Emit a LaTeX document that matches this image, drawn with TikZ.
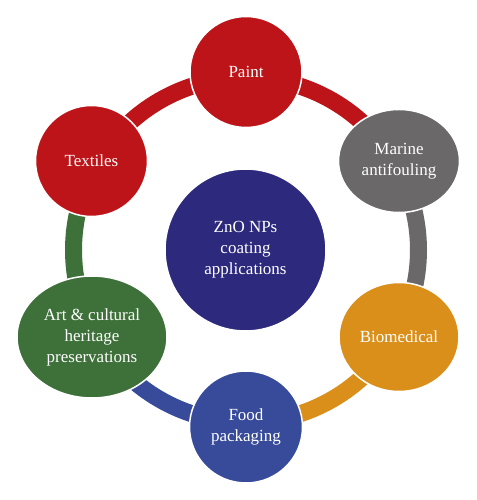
\documentclass[tikz,border=0pt]{standalone}
\usepackage{fontspec}
\setmainfont{Liberation Serif}
\usetikzlibrary{shapes.geometric}
\definecolor{cred}{HTML}{BD1419}
\definecolor{cgray}{HTML}{6A6869}
\definecolor{corange}{HTML}{DA8F1B}
\definecolor{cblue}{HTML}{374B9A}
\definecolor{cgreen}{HTML}{3E7139}
\definecolor{cnavy}{HTML}{2D2A7E}
\tikzset{
  bub/.style={ellipse, draw=white, line width=1.5pt, inner sep=0pt, text=white,
    align=center, font=\fontsize{17}{21}\selectfont},
  ringarc/.style={line width=17pt, line cap=butt},
}
\begin{document}
\begin{tikzpicture}[x=1pt,y=1pt]
\useasboundingbox (0,0) rectangle (476,500);
\coordinate (rc) at (246,250);
% ring arcs
\draw[ringarc, cred]    (rc) ++(90:172.5pt)  arc[start angle=90,  end angle=30,  radius=172.5pt];
\draw[ringarc, cgray]   (rc) ++(30:172.5pt)  arc[start angle=30,  end angle=-30, radius=172.5pt];
\draw[ringarc, corange] (rc) ++(-30:172.5pt) arc[start angle=-30, end angle=-90, radius=172.5pt];
\draw[ringarc, cblue]   (rc) ++(-90:172.5pt) arc[start angle=-90, end angle=-150, radius=172.5pt];
\draw[ringarc, cgreen]  (rc) ++(210:172.5pt) arc[start angle=210, end angle=150, radius=172.5pt];
\draw[ringarc, cred]    (rc) ++(150:172.5pt) arc[start angle=150, end angle=90, radius=172.5pt];
% bubbles
\node[bub, fill=cnavy, minimum width=161pt, minimum height=162pt] (center) at (245.5,250) {ZnO NPs\\coating\\applications};
\node[bub, fill=cred, minimum width=112pt, minimum height=111pt] (paint) at (246,428) {Paint};
\node[bub, fill=cgray, minimum width=121pt, minimum height=103pt] (marine) at (399,339) {Marine\\antifouling};
\node[bub, fill=corange, minimum width=120pt, minimum height=109pt] (bio) at (399,163) {Biomedical};
\node[bub, fill=cblue, minimum width=113pt, minimum height=112pt] (food) at (246,73) {Food\\packaging};
\node[bub, fill=cgreen, minimum width=150pt, minimum height=122pt] (art) at (92,163) {Art \& cultural\\heritage\\preservations};
\node[bub, fill=cred, minimum width=112pt, minimum height=111pt] (textiles) at (91.5,339) {Textiles};
\end{tikzpicture}
\end{document}
